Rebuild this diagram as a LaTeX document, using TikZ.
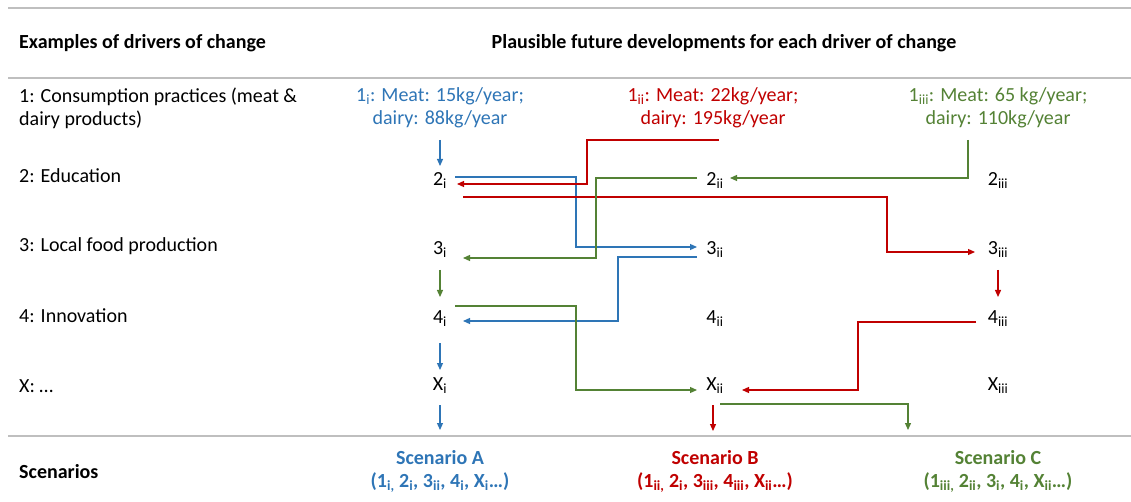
\documentclass[tikz,border=0pt]{standalone}
\usepackage{fontspec}
\setmainfont{Carlito}
\usetikzlibrary{arrows.meta}
\definecolor{cblue}{HTML}{2E75B6}
\definecolor{cred}{HTML}{C00000}
\definecolor{cgreen}{HTML}{548235}
\definecolor{rulegrey}{HTML}{BFBFBF}
\tikzset{
  txt/.style={font=\fontsize{20}{23}\selectfont, inner sep=0pt},
  lab/.style={txt, anchor=west},
  cell/.style={txt, text height=12.6pt, text depth=0pt},
  head/.style={font=\fontsize{20}{23}\selectfont\bfseries, inner sep=0pt},
  rulel/.style={draw=rulegrey, line width=1.5pt},
  conn/.style={line width=1.2pt, -{Triangle[length=7pt,width=6pt]}},
  cbl/.style={conn, draw=cblue},
  crd/.style={conn, draw=cred},
  cgr/.style={conn, draw=cgreen},
}
\begin{document}
\begin{tikzpicture}[x=1pt,y=-1pt]
\useasboundingbox (0,0) rectangle (1131,502);
% rules
\draw[rulel] (8,8) -- (1131,8);
\draw[rulel] (8,78) -- (1131,78);
\draw[rulel] (8,436) -- (1131,436);
% headers
\node[head, anchor=west] (hleft) at (19,43) {Examples of drivers of change};
\node[head] (hright) at (724,43) {Plausible future developments for each driver of change};
% row labels
\node[lab, align=left] (l1) at (19,108) {1: Consumption practices (meat \&\\dairy products)};
\node[lab] (l2) at (19,176) {2: Education};
\node[lab] (l3) at (19,246) {3: Local food production};
\node[lab] (l4) at (19,316) {4: Innovation};
\node[lab] (lX) at (19,386) {X: \dots};
\node[head, anchor=west] (lS) at (19,472) {Scenarios};
% first row
\node[txt, align=center, text=cblue] (n1i) at (440,108) {1\textsubscript{i}: Meat: 15kg/year;\\dairy: 88kg/year};
\node[txt, align=center, text=cred] (n1ii) at (713,108) {1\textsubscript{ii}: Meat: 22kg/year;\\dairy: 195kg/year};
\node[txt, align=center, text=cgreen] (n1iii) at (998,108) {1\textsubscript{iii}: Meat: 65 kg/year;\\dairy: 110kg/year};
% cells
\node[cell] (n2i) at (440,179) {2\textsubscript{i}};
\node[cell] (n2ii) at (715,179) {2\textsubscript{ii}};
\node[cell] (n2iii) at (998,179) {2\textsubscript{iii}};
\node[cell] (n3i) at (440,248) {3\textsubscript{i}};
\node[cell] (n3ii) at (715,248) {3\textsubscript{ii}};
\node[cell] (n3iii) at (998,248) {3\textsubscript{iii}};
\node[cell] (n4i) at (440,317) {4\textsubscript{i}};
\node[cell] (n4ii) at (715,317) {4\textsubscript{ii}};
\node[cell] (n4iii) at (998,317) {4\textsubscript{iii}};
\node[cell] (nXi) at (440,384) {X\textsubscript{i}};
\node[cell] (nXii) at (715,384) {X\textsubscript{ii}};
\node[cell] (nXiii) at (998,384) {X\textsubscript{iii}};
% scenarios
\node[head, align=center, text=cblue] (scA) at (440,471) {Scenario A\\(1\textsubscript{i,} 2\textsubscript{i}, 3\textsubscript{ii}, 4\textsubscript{i}, X\textsubscript{i}\dots)};
\node[head, align=center, text=cred] (scB) at (715,471) {Scenario B\\(1\textsubscript{ii,} 2\textsubscript{i}, 3\textsubscript{iii}, 4\textsubscript{iii}, X\textsubscript{ii}\dots)};
\node[head, align=center, text=cgreen] (scC) at (998,471) {Scenario C\\(1\textsubscript{iii,} 2\textsubscript{ii}, 3\textsubscript{i}, 4\textsubscript{i}, X\textsubscript{ii}\dots)};
% blue connectors
\draw[cbl] ([yshift=-32pt]n1i.center) -- ([yshift=13pt]n2i.center);
\draw[cbl] ([xshift=15pt,yshift=2pt]n2i.center) -| (576,247) -- ([xshift=-18pt,yshift=1pt]n3ii.center);
\draw[cbl] ([xshift=-18pt,yshift=-9pt]n3ii.center) -| (618,321) -- ([xshift=23pt,yshift=-4pt]n4i.center);
\draw[cbl] ([yshift=-26pt]n4i.center) -- ([yshift=14pt]nXi.center);
\draw[cbl] ([yshift=-21pt]nXi.center) -- ([yshift=41pt]scA.center);
% red connectors
\draw[crd] ([xshift=6pt,yshift=-32pt]n1ii.center) -| (587,184) -- ([xshift=17pt,yshift=-5pt]n2i.center);
\draw[crd] ([xshift=23pt,yshift=-18pt]n2i.center) -| (887,252) -- ([xshift=-23pt,yshift=-4pt]n3iii.center);
\draw[crd] ([yshift=-22pt]n3iii.center) -- ([yshift=20pt]n4iii.center);
\draw[crd] ([xshift=-22pt,yshift=-5pt]n4iii.center) -| (858,390) -- ([xshift=27pt,yshift=-6pt]nXii.center);
\draw[crd] ([xshift=-2pt,yshift=-21pt]nXii.center) -- ([xshift=-2pt,yshift=40pt]scB.center);
% green connectors
\draw[cgr] ([xshift=-30pt,yshift=-32pt]n1iii.center) |- ([xshift=15pt,yshift=1pt]n2ii.center);
\draw[cgr] ([xshift=-18pt,yshift=1pt]n2ii.center) -| (596,258) -- ([xshift=23pt,yshift=-10pt]n3i.center);
\draw[cgr] ([yshift=-22pt]n3i.center) -- ([yshift=20pt]n4i.center);
\draw[cgr] ([xshift=15pt,yshift=11pt]n4i.center) -| (576,390) -- ([xshift=-18pt,yshift=-6pt]nXii.center);
\draw[cgr] ([xshift=5pt,yshift=-20pt]nXii.center) -| ([xshift=-90pt,yshift=41pt]scC.center);
\end{tikzpicture}
\end{document}
